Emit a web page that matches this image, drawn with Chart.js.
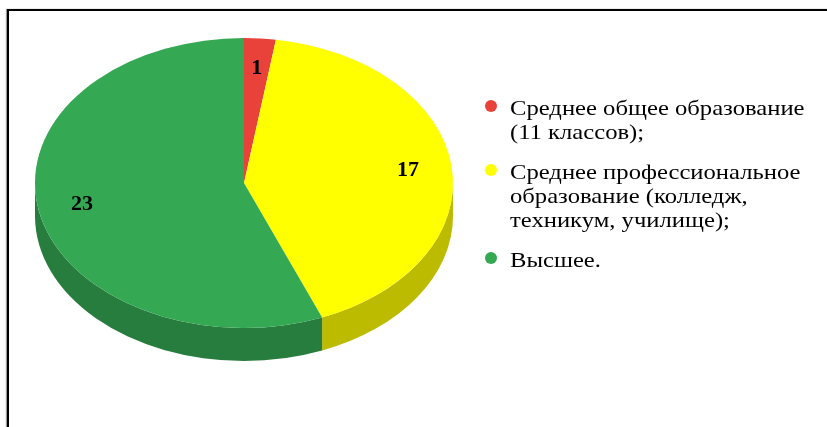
<!DOCTYPE html>
<html>
<head>
<meta charset="utf-8">
<script src="https://cdn.jsdelivr.net/npm/chart.js@4.4.0/dist/chart.umd.min.js"></script>
<style>
  body { margin: 0; background: #fff; width: 827px; height: 427px; overflow: hidden; position: relative; }
  #frame { position: absolute; left: 7px; top: 9px; width: 840px; height: 440px; border-left: 2px solid #000; border-top: 2px solid #000; box-shadow: -1px 0 1px #999; }
  #pie { position: absolute; left: 0; top: 0; }
  #legend { position: absolute; left: 484px; top: 96px; width: 340px; font-family: "Liberation Serif", "Times New Roman", serif; font-size: 22px; line-height: 24px; color: #000; }
  .item { position: relative; padding-left: 26px; margin-bottom: 16px; }
  .txt { display: block; transform: scaleX(1.12); transform-origin: 0 0; white-space: nowrap; }
  .dot { position: absolute; left: 1px; top: 4px; width: 12px; height: 12px; border-radius: 50%; }
</style>
</head>
<body>
<div id="frame"></div>
<canvas id="pie" width="827" height="427"></canvas>
<div id="legend"></div>
<script>
let categories = [
    ['Среднее общее образование', '(11 классов);'],
    ['Среднее профессиональное', 'образование (колледж,', 'техникум, училище);'],
    ['Высшее.']
];
let counts = [1, 17, 23];
let topColors = ['#e8423a', '#ffff00', '#34a853'];
let sideColors = ['#c23229', '#bdbb00', '#277d3d'];

// ellipse look
let centerY = 183;
let squash = 145 / 209;
let depth = 33;

// side walls + squash -------
const fakePie3d = {
    id: 'fakePie3d',
    beforeDatasetsDraw(chart) {
        const ctx = chart.ctx;
        const arcs = chart.getDatasetMeta(0).data;
        const cx = arcs[0].x;
        const R = arcs[0].outerRadius;
        ctx.save();
        arcs.forEach((arc, i) => {
            // only the front half (0..PI) shows a wall
            let a = arc.startAngle, b = arc.endAngle;
            while (a < 0) { a += Math.PI * 2; b += Math.PI * 2; }
            [[a, b], [a - Math.PI * 2, b - Math.PI * 2]].forEach(([s, e]) => {
                const from = Math.max(s, 0), to = Math.min(e, Math.PI);
                if (to <= from) return;
                ctx.beginPath();
                ctx.ellipse(cx, centerY, R, R * squash, 0, from, to);
                ctx.ellipse(cx, centerY + depth, R, R * squash, 0, to, from, true);
                ctx.closePath();
                ctx.fillStyle = sideColors[i];
                ctx.fill();
            });
        });
        ctx.restore();

        ctx.save();
        ctx.translate(cx, centerY);
        ctx.scale(1, squash);
        ctx.translate(-cx, -arcs[0].y);
    },
    afterDatasetsDraw(chart) {
        const ctx = chart.ctx;
        ctx.restore();
        // value labels
        const arcs = chart.getDatasetMeta(0).data;
        ctx.save();
        ctx.font = 'bold 22px "Liberation Serif", serif';
        ctx.fillStyle = '#000';
        ctx.textAlign = 'center';
        ctx.textBaseline = 'middle';
        arcs.forEach((arc, i) => {
            const mid = (arc.startAngle + arc.endAngle) / 2;
            const r = arc.outerRadius * 0.79;
            ctx.fillText(String(counts[i]), arc.x + r * Math.cos(mid), centerY + r * squash * Math.sin(mid));
        });
        ctx.restore();
    }
};

let chart = new Chart(document.getElementById('pie').getContext('2d'), {
    type: 'pie',
    data: {
        labels: categories,
        datasets: [{
            data: counts,
            backgroundColor: topColors,
            borderWidth: 0
        }]
    },
    options: {
        responsive: false,
        animation: false,
        radius: 209,
        layout: { padding: { left: 35, right: 374, top: 0, bottom: 0 } },
        plugins: {
            legend: { display: false },
            tooltip: { enabled: false }
        }
    },
    plugins: [fakePie3d]
});

// html legend
let legendBox = document.getElementById('legend');
categories.forEach((lines, i) => {
    let item = document.createElement('div');
    item.className = 'item';
    item.innerHTML = '<span class="dot" style="background:' + topColors[i] + '"></span><span class="txt">' + lines.join('<br>') + '</span>';
    legendBox.appendChild(item);
});
</script>
</body>
</html>
